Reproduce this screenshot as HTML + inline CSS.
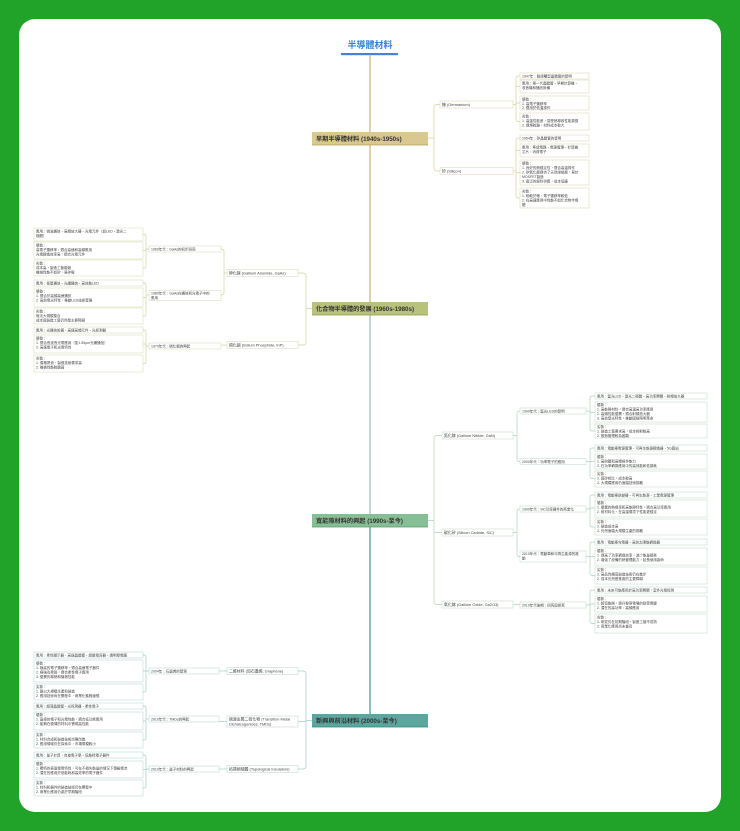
<!DOCTYPE html>
<html><head><meta charset="utf-8"><style>
html,body{margin:0;padding:0;background:#21a329;}
svg{display:block}
text{font-family:"Liberation Sans","Noto Sans CJK TC",sans-serif;fill:#444;}
.l{font-size:3.5px}
.c{font-size:3.9px}
.m{font-size:6.2px;font-weight:bold;fill:#333}
</style></head><body>
<svg width="740" height="831" viewBox="0 0 740 831" xmlns="http://www.w3.org/2000/svg">
<rect x="0" y="0" width="740" height="831" fill="#21a329"/>
<rect x="19" y="19" width="702" height="793" rx="16" fill="#fff"/>

<!-- title -->
<text x="370" y="48" text-anchor="middle" style="font-size:9px;fill:#3b7fd4;font-weight:bold">半導體材料</text>
<rect x="341" y="53" width="57" height="2.2" fill="#4a80d6"/>
<!-- spine -->
<line x1="370" y1="55" x2="370" y2="300" stroke="#d6c79a" stroke-width="1.6"/>
<line x1="370" y1="300" x2="370" y2="316" stroke="#c7cc9a" stroke-width="1.6"/>
<line x1="370" y1="316" x2="370" y2="515" stroke="#b3cccc" stroke-width="1.6"/>
<line x1="370" y1="515" x2="370" y2="716" stroke="#6fb0a8" stroke-width="1.6"/>

<!-- ========== SECTION 1 ========== -->
<g fill="none" stroke="#dccf9f" stroke-width="0.7">
<path d="M428 138 H434 M434 138 V107 Q434 104.5 437 104.5 H440 M434 138 V168 Q434 171 437 171 H440"/>
<path d="M513 104.5 H516 M516 104.5 V79 Q516 76 518 76 H520 M516 86.5 H520 M516 103 H520 M516 104.5 V119 Q516 121.5 518 121.5 H520"/>
<path d="M513 171 H516 M516 171 V141 Q516 138 518 138 H520 M516 150.5 H520 M516 172.5 H520 M516 171 V195 Q516 198 518 198 H520"/>
</g>
<rect x="312" y="132" width="116" height="13" fill="#d9c88f"/>
<line x1="312" y1="145" x2="428" y2="145" stroke="#b59f55" stroke-width="0.8"/>
<text class="m" x="316" y="141">早期半導體材料 (1940s-1950s)</text>
<g fill="#fff" stroke="#ddd3ad" stroke-width="0.5">
<rect x="440" y="101" width="73" height="7"/><rect x="440" y="167.5" width="73" height="7"/>
<rect x="520" y="73" width="69" height="6"/><rect x="520" y="80" width="69" height="13"/>
<rect x="520" y="96" width="69" height="14"/><rect x="520" y="113" width="69" height="17"/>
<rect x="520" y="135" width="69" height="6"/><rect x="520" y="144" width="69" height="13"/>
<rect x="520" y="160" width="69" height="25"/><rect x="520" y="188" width="69" height="20"/>
</g>
<text class="c" x="442" y="105.8">鍺 (Germanium)</text>
<text class="c" x="442" y="172.3">矽 (Silicon)</text>
<g class="l">
<text x="522" y="77.5">1947年：點接觸型晶體管的發明</text>
<text x="522" y="84.5">應用：第一代晶體管、早期計算機、</text><text x="522" y="89">收音機和通訊設備</text>
<text x="522" y="100.5">優勢：</text><text x="522" y="105">1. 高電子遷移率</text><text x="522" y="109">2. 適用於低溫操作</text>
<text x="522" y="117.5">劣勢：</text><text x="522" y="122">1. 高溫性能差，易受熱導致性能衰退</text><text x="522" y="126.5">2. 提煉較難，材料成本較大</text>
<text x="522" y="139.5">1954年：矽晶體管的發明</text>
<text x="522" y="148.5">應用：集成電路、電源管理、計算機</text><text x="522" y="153">芯片、消費電子</text>
<text x="522" y="164.5">優勢：</text><text x="522" y="169">1. 良好的熱穩定性，適合高溫操作</text><text x="522" y="173.5">2. 矽氧化層提供了天然絕緣層，易於</text><text x="522" y="178">MOSFET製造</text><text x="522" y="182.5">3. 廣泛的原料供應，成本低廉</text>
<text x="522" y="192.5">劣勢：</text><text x="522" y="197">1. 相較於鍺，電子遷移率較低</text><text x="522" y="201.5">2. 在高速應用中性能不如化合物半導</text><text x="522" y="206">體</text>
</g>

<!-- ========== SECTION 2 ========== -->
<g fill="none" stroke="#cdd3a4" stroke-width="0.7">
<path d="M312 308.5 H306 M306 308.5 V276 Q306 273 303 273 H298 M306 308.5 V342 Q306 345 303 345 H298"/>
<path d="M227 273 H224 M224 273 V252 Q224 249 222 249 H221 M224 273 V292 Q224 295 222 295 H221"/>
<path d="M227 345 H221"/>
<path d="M149 249 H146 M146 249 V237 Q146 234.5 144.5 234.5 H143 M146 250.5 H143 M146 249 V265 Q146 268 144.5 268 H143"/>
<path d="M149 295 H146 M146 295 V286 Q146 283 144.5 283 H143 M146 297.5 H143 M146 295 V313 Q146 316 144.5 316 H143"/>
<path d="M149 346 H146 M146 346 V333 Q146 330 144.5 330 H143 M146 344 H143 M146 346 V361 Q146 363.5 144.5 363.5 H143"/>
</g>
<rect x="312" y="302" width="116" height="13" fill="#b9c27b"/>
<line x1="312" y1="315" x2="428" y2="315" stroke="#8f9a4c" stroke-width="0.8"/>
<text class="m" x="316" y="311">化合物半導體的發展 (1960s-1980s)</text>
<g fill="#fff" stroke="#d3d9b3" stroke-width="0.5">
<rect x="227" y="269.5" width="71" height="7"/><rect x="227" y="341.5" width="71" height="7"/>
<rect x="149" y="246" width="72" height="6"/><rect x="149" y="290.5" width="72" height="10"/><rect x="149" y="343" width="72" height="6"/>
<rect x="34" y="228" width="109" height="13"/><rect x="34" y="242" width="109" height="17"/><rect x="34" y="260" width="109" height="16"/>
<rect x="34" y="280" width="109" height="6"/><rect x="34" y="288" width="109" height="19"/><rect x="34" y="308" width="109" height="16"/>
<rect x="34" y="327" width="109" height="6"/><rect x="34" y="335" width="109" height="18"/><rect x="34" y="355" width="109" height="17"/>
</g>
<text class="c" x="229" y="274.3">砷化鎵 (Gallium Arsenide, GaAs)</text>
<text class="c" x="229" y="346.3">磷化銦 (Indium Phosphide, InP)</text>
<g class="l">
<text x="151" y="250.3">1960年代：GaAs的初步研究</text>
<text x="151" y="294.5">1980年代：GaAs在通信和光電子中的</text><text x="151" y="299">應用</text>
<text x="151" y="347.3">1970年代：磷化銦的興起</text>
<text x="36" y="232.5">應用：微波通信、高頻放大器、光電元件（如LED、激光二</text><text x="36" y="237">極體）</text>
<text x="36" y="246.5">優勢：</text><text x="36" y="251">高電子遷移率，適合高速和高頻應用</text><text x="36" y="255.5">光電轉換效率高，適合光電元件</text>
<text x="36" y="264.5">劣勢：</text><text x="36" y="269">成本高，製造工藝複雜</text><text x="36" y="273.5">機械性能不如矽，易碎裂</text>
<text x="36" y="284.3">應用：衛星通信、光纖通信、高效能LED</text>
<text x="36" y="292.5">優勢：</text><text x="36" y="297">1. 適合於高頻高速通訊</text><text x="36" y="301.5">2. 高效電光特性，推動LED技術發展</text>
<text x="36" y="312.5">劣勢：</text><text x="36" y="317">無法大規模整合</text><text x="36" y="321.5">成本與製造工藝仍然是主要障礙</text>
<text x="36" y="331.3">應用：光通信設備、高速高頻元件、光探測器</text>
<text x="36" y="339.5">優勢：</text><text x="36" y="344">1. 適合長波長光電應用（如1.55μm光纖通信）</text><text x="36" y="348.5">2. 高速電子和光電特性</text>
<text x="36" y="359.5">劣勢：</text><text x="36" y="364">1. 價格昂貴，製造技術要求高</text><text x="36" y="368.5">2. 機械性能較脆弱</text>
</g>

<!-- ========== SECTION 3 ========== -->
<g fill="none" stroke="#afd2bb" stroke-width="0.7">
<path d="M428 520.5 H434 M434 520.5 V438.5 Q434 435.5 437 435.5 H442 M434 532.5 H442 M434 520.5 V601.5 Q434 604.5 437 604.5 H442"/>
<path d="M513 435.5 H517 M517 435.5 V414 Q517 411 519 411 H520 M517 435.5 V458.5 Q517 461.5 519 461.5 H520"/>
<path d="M513 532.5 H517 M517 532.5 V512 Q517 509 519 509 H520 M517 532.5 V553.5 Q517 556.5 519 556.5 H520"/>
<path d="M513 604.5 H520"/>
<path d="M586 411 H590 M590 411 V399 Q590 396 592 396 H595 M590 412.5 H595 M590 411 V428 Q590 431 592 431 H595"/>
<path d="M586 461.5 H590 M590 461.5 V451 Q590 448 592 448 H595 M590 461.5 H595 M590 461.5 V475.5 Q590 478.5 592 478.5 H595"/>
<path d="M586 509 H590 M590 509 V498 Q590 495 592 495 H595 M590 508 H595 M590 509 V524 Q590 527 592 527 H595"/>
<path d="M586 556.5 H590 M590 556.5 V545 Q590 542 592 542 H595 M590 556.5 H595 M590 556.5 V572.5 Q590 575.5 592 575.5 H595"/>
<path d="M586 605 H590 M590 605 V593 Q590 590 592 590 H595 M590 604 H595 M590 605 V620.5 Q590 623.5 592 623.5 H595"/>
</g>
<rect x="312" y="514" width="116" height="13" fill="#86bf95"/>
<line x1="312" y1="527" x2="428" y2="527" stroke="#5a9a6a" stroke-width="0.8"/>
<text class="m" x="316" y="523">寬能隙材料的興起 (1990s-至今)</text>
<g fill="#fff" stroke="#b9d8c4" stroke-width="0.5">
<rect x="442" y="432" width="71" height="7"/><rect x="442" y="529" width="71" height="7"/><rect x="442" y="601" width="71" height="7"/>
<rect x="520" y="408" width="66" height="6"/><rect x="520" y="458.5" width="66" height="6"/><rect x="520" y="506" width="66" height="6"/>
<rect x="520" y="551" width="66" height="11"/><rect x="520" y="602" width="66" height="6"/>
<rect x="595" y="393" width="112" height="6"/><rect x="595" y="402" width="112" height="20"/><rect x="595" y="424" width="112" height="14"/>
<rect x="595" y="445" width="112" height="6"/><rect x="595" y="454" width="112" height="15"/><rect x="595" y="471" width="112" height="16"/>
<rect x="595" y="492" width="112" height="6"/><rect x="595" y="500" width="112" height="17"/><rect x="595" y="519" width="112" height="16"/>
<rect x="595" y="539" width="112" height="6"/><rect x="595" y="548" width="112" height="17"/><rect x="595" y="567" width="112" height="17"/>
<rect x="595" y="587" width="112" height="6"/><rect x="595" y="596" width="112" height="16"/><rect x="595" y="614" width="112" height="19"/>
</g>
<text class="c" x="444" y="437">氮化鎵 (Gallium Nitride, GaN)</text>
<text class="c" x="444" y="534">碳化矽 (Silicon Carbide, SiC)</text>
<text class="c" x="444" y="606">氧化鎵 (Gallium Oxide, Ga2O3)</text>
<g class="l">
<text x="522" y="412.3">1990年代：藍光LED的發明</text>
<text x="522" y="462.8">2000年代：功率電子的應用</text>
<text x="522" y="510.3">1990年代：SiC功率器件的商業化</text>
<text x="522" y="555">2010年代：電動車和可再生能源的推</text><text x="522" y="559.5">動</text>
<text x="522" y="606.3">2010年代後期：研究與探索</text>
<text x="597" y="397.3">應用：藍光LED、激光二極體、高功率開關、射頻放大器</text>
<text x="597" y="406">優勢：</text><text x="597" y="410.5">1. 高能隙材料，適合高溫高功率應用</text><text x="597" y="415">2. 高頻性能優異，適合射頻放大器</text><text x="597" y="419.5">3. 高效發光特性，推動固態照明革命</text>
<text x="597" y="428">劣勢：</text><text x="597" y="432.5">1. 製造工藝要求高，成本相對較高</text><text x="597" y="437">2. 散熱管理較為困難</text>
<text x="597" y="449.3">應用：電動車電源管理、可再生能源轉換器、5G基站</text>
<text x="597" y="458">優勢：</text><text x="597" y="462.5">1. 高耐壓和高頻操作能力</text><text x="597" y="467">2. 在功率轉換應用中的高效能和低損耗</text>
<text x="597" y="475">劣勢：</text><text x="597" y="479.5">1. 與矽相比，成本較高</text><text x="597" y="484">2. 大規模應用仍面臨技術挑戰</text>
<text x="597" y="496.3">應用：電動車逆變器、可再生能源、工業電源管理</text>
<text x="597" y="504">優勢：</text><text x="597" y="508.5">1. 優異的熱導率和高能隙特性，適合高功率應用</text><text x="597" y="513">2. 耐材料化，在高溫環境下性能更穩定</text>
<text x="597" y="523">劣勢：</text><text x="597" y="527.5">1. 製造成本高</text><text x="597" y="532">2. 仍然面臨大規模生產的挑戰</text>
<text x="597" y="543.3">應用：電動車充電器、高效太陽能轉換器</text>
<text x="597" y="552">優勢：</text><text x="597" y="556.5">1. 提高了功率轉換效率，減少能量損耗</text><text x="597" y="561">2. 增強了設備的熱管理能力，延長使用壽命</text>
<text x="597" y="571">劣勢：</text><text x="597" y="575.5">1. 高品質襯底製造技術仍在進步</text><text x="597" y="580">2. 成本仍然是推廣的主要障礙</text>
<text x="597" y="591.3">應用：未來可能應用於高功率開關，室外光電探測</text>
<text x="597" y="600">優勢：</text><text x="597" y="604.5">1. 超寬能隙，提升擊穿電場的耐受電壓</text><text x="597" y="609">2. 潛在的高功率、高頻應用</text>
<text x="597" y="618.5">劣勢：</text><text x="597" y="623">1. 研究仍在初期階段，製造工藝不成熟</text><text x="597" y="627.5">2. 商業化應用尚未普及</text>
</g>

<!-- ========== SECTION 4 ========== -->
<g fill="none" stroke="#a6cbc7" stroke-width="0.7">
<path d="M312 720.5 H306 M306 720.5 V674 Q306 671 303 671 H298 M306 721.5 H298 M306 720.5 V766 Q306 769 303 769 H298"/>
<path d="M227 671 H219 M227 721.5 H219 M227 769 H219"/>
<path d="M149 671 H146 M146 671 V658 Q146 655 144.5 655 H143 M146 671 H143 M146 671 V689 Q146 692 144.5 692 H143"/>
<path d="M149 719 H146 M146 719 V709 Q146 706 144.5 706 H143 M146 721 H143 M146 719 V737 Q146 740 144.5 740 H143"/>
<path d="M149 769 H146 M146 769 V758 Q146 755 144.5 755 H143 M146 769.5 H143 M146 769 V785 Q146 788 144.5 788 H143"/>
</g>
<rect x="312" y="714" width="116" height="13" fill="#5ba79f"/>
<line x1="312" y1="727" x2="428" y2="727" stroke="#35827a" stroke-width="0.8"/>
<text class="m" x="316" y="723">新興與前沿材料 (2000s-至今)</text>
<g fill="#fff" stroke="#b3d3cf" stroke-width="0.5">
<rect x="227" y="667.5" width="71" height="7"/><rect x="227" y="716" width="71" height="11"/><rect x="227" y="765.5" width="71" height="7"/>
<rect x="149" y="668" width="70" height="6"/><rect x="149" y="716" width="70" height="6"/><rect x="149" y="766" width="70" height="6"/>
<rect x="34" y="652" width="109" height="6"/><rect x="34" y="660" width="109" height="22"/><rect x="34" y="684" width="109" height="16"/>
<rect x="34" y="703" width="109" height="6"/><rect x="34" y="712" width="109" height="18"/><rect x="34" y="732" width="109" height="16"/>
<rect x="34" y="752" width="109" height="6"/><rect x="34" y="761" width="109" height="17"/><rect x="34" y="780" width="109" height="16"/>
</g>
<text class="c" x="229" y="672.3">二維材料 (如石墨烯, Graphene)</text>
<text class="c" x="229" y="720.5">過渡金屬二硫化物 (Transition Metal</text><text class="c" x="229" y="725.3">Dichalcogenides, TMDs)</text>
<text class="c" x="229" y="770.3">拓撲絕緣體 (Topological Insulators)</text>
<g class="l">
<text x="151" y="672.3">2004年：石墨烯的發現</text>
<text x="151" y="720.3">2010年代：TMDs的興起</text>
<text x="151" y="770.3">2010年代：量子材料的興起</text>
<text x="36" y="656.3">應用：柔性顯示器、高速晶體管、超級電容器、透明導電膜</text>
<text x="36" y="664.5">優勢：</text><text x="36" y="669">1. 極高的電子遷移率，適合高速電子器件</text><text x="36" y="673.5">2. 極強及柔韌，適合柔性電子應用</text><text x="36" y="678">3. 優異的導熱和機械性能</text>
<text x="36" y="688">劣勢：</text><text x="36" y="692.5">1. 難以大規模生產和製造</text><text x="36" y="697">2. 應用技術尚在開發中，商業化進程緩慢</text>
<text x="36" y="707.3">應用：超薄晶體管、光探測器、柔性電子</text>
<text x="36" y="716">優勢：</text><text x="36" y="720.5">1. 直接的電子和光電性能，適合低功耗應用</text><text x="36" y="725">2. 能夠在極薄的材料中實現高性能</text>
<text x="36" y="736">劣勢：</text><text x="36" y="740.5">1. 材料合成和製造技術尚需改進</text><text x="36" y="745">2. 應用領域仍在探索中，市場規模較小</text>
<text x="36" y="756.3">應用：量子計算、自旋電子學、低能耗電子器件</text>
<text x="36" y="765">優勢：</text><text x="36" y="769.5">1. 獨特的表面導電特性，可在不損失能量的情況下傳輸電流</text><text x="36" y="774">2. 潛在的應用於低能耗和高效率的電子器件</text>
<text x="36" y="784">劣勢：</text><text x="36" y="788.5">1. 材料和器件的製造技術仍在開發中</text><text x="36" y="793">2. 商業化應用仍處於早期階段</text>
</g>
</svg>
</body></html>
